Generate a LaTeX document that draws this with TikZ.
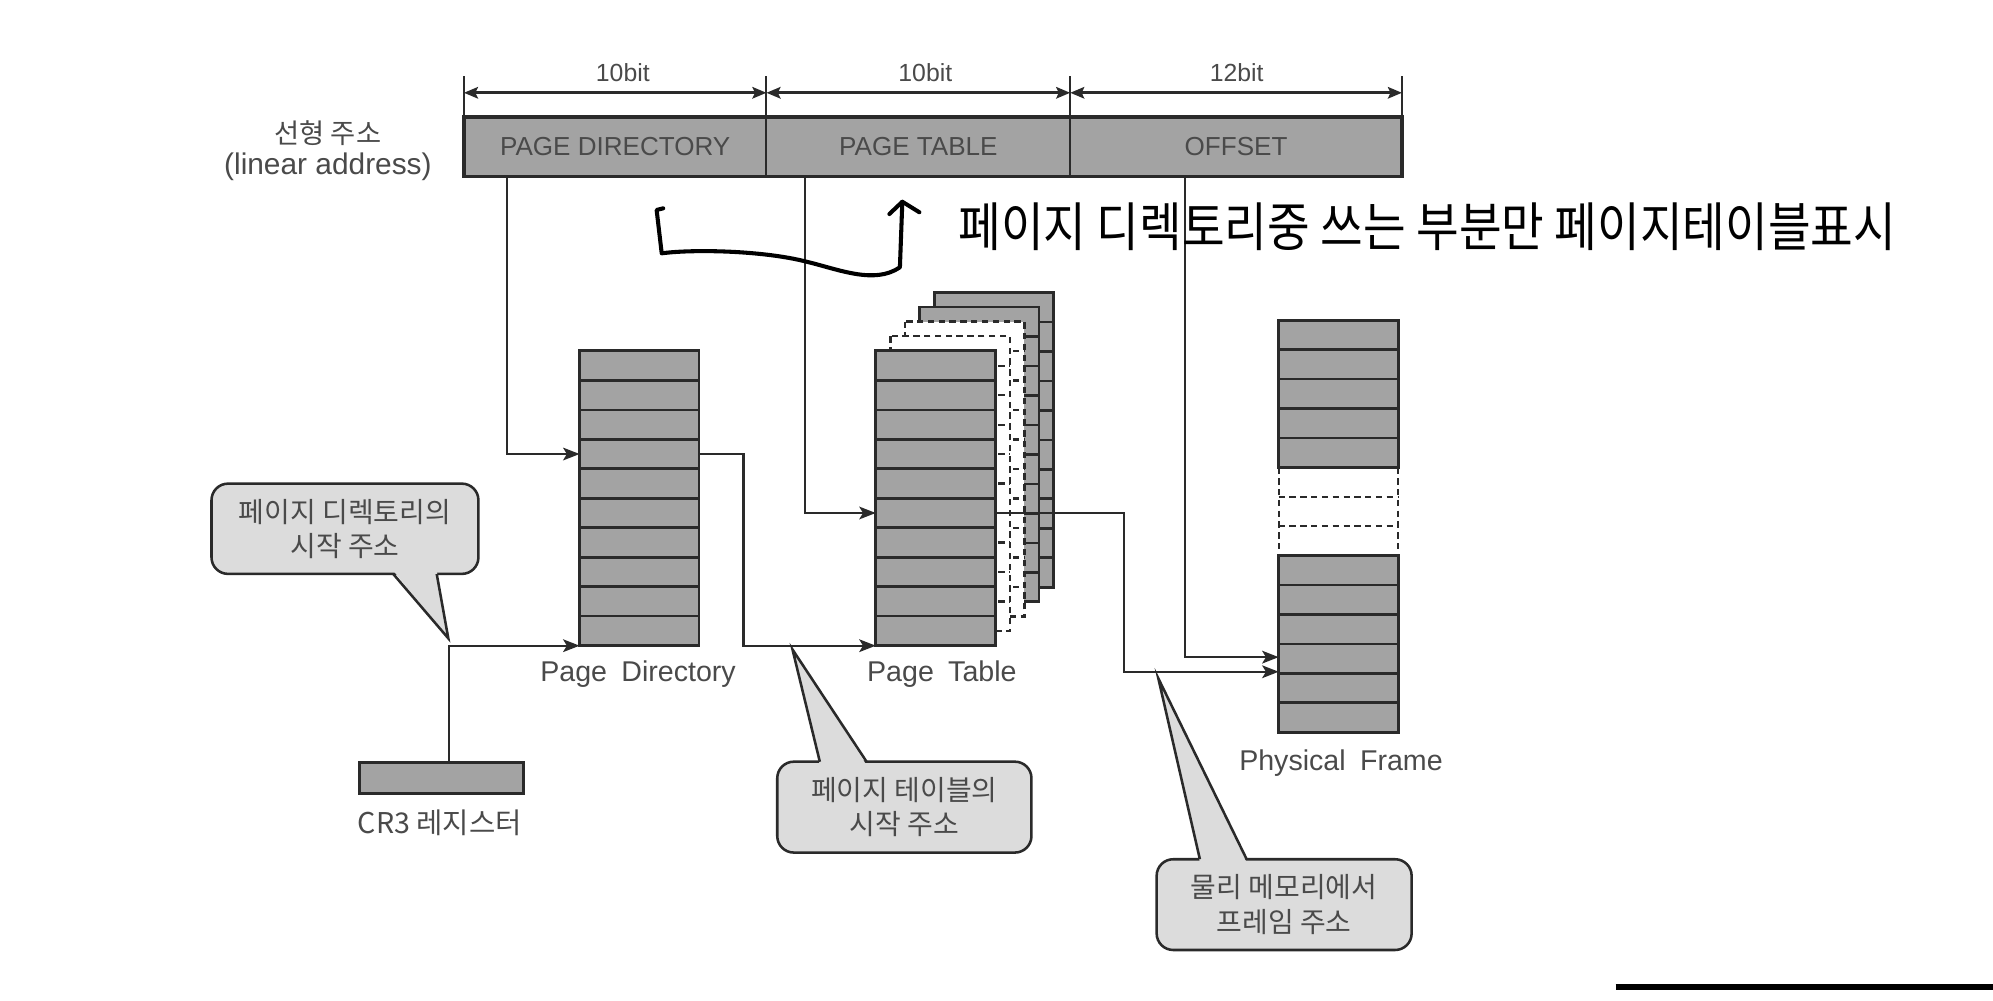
\documentclass[tikz,border=0pt]{standalone}
\usepackage{fontspec}
\usepackage{graphicx}
\setmainfont{Liberation Sans}
\newfontfamily\lab[WordSpace=1.8]{Liberation Sans}
\newfontfamily\kr{Noto Sans CJK KR}
\usetikzlibrary{arrows.meta}
\definecolor{boxgray}{HTML}{A3A3A3}
\definecolor{callgray}{HTML}{DCDCDC}
\definecolor{edge}{HTML}{2A2A2A}
\definecolor{txt}{HTML}{4A4A4A}
\begin{document}
\begin{tikzpicture}[x=1pt,y=-1pt,
  conn/.style={draw=edge, line width=1.7pt},
  arrowconn/.style={conn, -{Stealth[length=13pt,width=10pt,inset=3pt]}},
  dimarrow/.style={draw=edge, line width=2.2pt, {Stealth[length=11pt,width=9pt,inset=2pt]}-{Stealth[length=11pt,width=9pt,inset=2pt]}},
  tickline/.style={draw=edge, line width=1.5pt},
  tblframe/.style={draw=edge, fill=boxgray, line width=2.2pt},
  rowline/.style={draw=edge, line width=2pt},
  dashline/.style={draw=edge, line width=1.8pt, dash pattern=on 5pt off 3.5pt},
  barseg/.style={fill=boxgray, minimum height=47pt, inner sep=0pt, outer sep=0pt, text=txt, font=\fontsize{20.5}{22}\selectfont},
  bitlbl/.style={text=txt, inner sep=0pt, font=\fontsize{19.5}{20}\selectfont},
  lbl/.style={text=txt, inner sep=0pt, font=\lab\fontsize{22.5}{24}\selectfont},
  krlbl/.style={text=txt, inner sep=0pt, font=\kr\fontsize{21.5}{24}\selectfont},
  callbox/.style={draw=edge, fill=callgray, line width=2pt, rounded corners=13pt, inner sep=0pt, text=txt, align=center, font=\kr\fontsize{22}{27}\selectfont},
  pointer/.style={draw=edge, line width=2pt, line join=miter},
  tbl/.style={tblframe, minimum width=94pt, inner sep=0pt, outer sep=0pt}
]
\useasboundingbox (0,0) rectangle (1568,787);

% ---------- linear address bar ----------
\node[barseg, minimum width=238pt] (bpd) at (484,115.5) {PAGE DIRECTORY};
\node[barseg, minimum width=239pt] (bpt) at (722.5,115.5) {PAGE TABLE};
\node[barseg, minimum width=261pt] (boff) at (972.5,115.5) {OFFSET};
\draw[line width=2.6pt, draw=edge] (bpd.north west) rectangle (boff.south east);
\draw[tickline] (bpd.north east) -- (bpd.south east);
\draw[tickline] (bpt.north east) -- (bpt.south east);

\draw[tickline] (bpd.north west) -- ++(0,-32) coordinate (t0);
\draw[tickline] (bpd.north east) -- ++(0,-32) coordinate (t1);
\draw[tickline] (bpt.north east) -- ++(0,-32) coordinate (t2);
\draw[tickline] (boff.north east) -- ++(0,-32) coordinate (t3);
\coordinate (d0) at (365,73);
\coordinate (d1) at (603,73);
\coordinate (d2) at (842,73);
\coordinate (d3) at (1103,73);
\draw[dimarrow] (d0) -- (d1);
\draw[dimarrow] (d1) -- (d2);
\draw[dimarrow] (d2) -- (d3);
\node[bitlbl] (bit1) at (490,57) {10bit};
\node[bitlbl] (bit2) at (728,57) {10bit};
\node[bitlbl] (bit3) at (973,57) {12bit};

\node[krlbl] (lin1) at (258,105) {선형 주소};
\node[lbl, font=\fontsize{23.5}{24}\selectfont] (lin2) at (258,131) {(linear address)};

% ---------- page directory ----------
\node[tbl, minimum height=232pt] (pd) at (503,392) {};
\foreach \i in {1,...,9} \draw[rowline] (456,{276+23.2*\i}) -- (550,{276+23.2*\i});
\node[lbl] (pdl) at (502,530) {Page Directory};

% ---------- page table stack ----------
\foreach \k in {4,3} {
  \begin{scope}[shift={({11.5*\k},{-11.5*\k})}]
    \draw[tblframe] (689,276) rectangle (783,508);
    \foreach \i in {1,...,9} \draw[rowline] (689,{276+23.2*\i}) -- (783,{276+23.2*\i});
  \end{scope}
}
\foreach \k in {2,1} {
  \begin{scope}[shift={({11.5*\k},{-11.5*\k})}]
    \fill[white] (689,276) rectangle (783,508);
    \draw[dashline] (689,276) rectangle (783,508);
    \foreach \i in {1,...,9} \draw[dashline] (689,{276+23.2*\i}) -- (783,{276+23.2*\i});
  \end{scope}
}
\node[tbl, minimum height=232pt] (pt) at (736,392) {};
\foreach \i in {1,...,9} \draw[rowline] (689,{276+23.2*\i}) -- (783,{276+23.2*\i});
\node[lbl] (ptl) at (741,530) {Page Table};

% ---------- physical frame ----------
\node[minimum width=94pt, minimum height=324pt, inner sep=0pt] (pf) at (1053,414) {};
\draw[tblframe] (1006,252) rectangle (1100,{252+5*23.143});
\foreach \i in {1,...,4} \draw[rowline] (1006,{252+23.143*\i}) -- (1100,{252+23.143*\i});
\draw[dashline] (1006,{252+5*23.143}) -- (1006,{252+8*23.143});
\draw[dashline] (1100,{252+5*23.143}) -- (1100,{252+8*23.143});
\draw[dashline] (1006,{252+6*23.143}) -- (1100,{252+6*23.143});
\draw[dashline] (1006,{252+7*23.143}) -- (1100,{252+7*23.143});
\draw[tblframe] (1006,{252+8*23.143}) rectangle (1100,576);
\foreach \i in {9,...,13} \draw[rowline] (1006,{252+23.143*\i}) -- (1100,{252+23.143*\i});
\node[lbl] (pfl) at (1055,600) {Physical Frame};

% ---------- CR3 ----------
\node[tblframe, minimum width=129pt, minimum height=24pt, inner sep=0pt] (cr3) at (347.5,612) {};
\node[krlbl, font=\kr\fontsize{22.5}{24}\selectfont] (cr3l) at (346,647) {CR3 레지스터};

% ---------- connection points ----------
\coordinate (pdtap) at (399,139);
\coordinate (pttap) at (633,139);
\coordinate (offtap) at (932,139);
\coordinate (pdin) at (456,357.2);
\coordinate (pdout) at (550,357.2);
\coordinate (pdbase) at (456,508);
\coordinate (pdjog) at (585,508);
\coordinate (ptin) at (689,403.6);
\coordinate (ptout) at (783,403.6);
\coordinate (ptbase) at (689,508);
\coordinate (ptjog) at (884,528.5);
\coordinate (pfin1) at (1006,517);
\coordinate (pfin2) at (1006,528.5);
\coordinate (cr3tap) at (353,600);

\draw[arrowconn] (pdtap) |- (pdin);
\draw[arrowconn] (pttap) |- (ptin);
\draw[arrowconn] (offtap) |- (pfin1);
\draw[arrowconn] (pdout) -| (pdjog) -- (ptbase);
\draw[arrowconn] (ptout) -| (ptjog) -- (pfin2);
\draw[arrowconn] (cr3tap) |- (pdbase);

% ---------- callouts ----------
\node[callbox, minimum width=210pt, minimum height=71pt] (c1) at (271.4,416) {페이지 디렉토리의\\시작 주소};
\fill[callgray] (309.4,449) -- (352.7,502.2) -- (343.6,449) -- cycle;
\draw[pointer] (309.4,451.6) -- (352.7,502.2) -- (343.6,451.6);

\node[callbox, minimum width=200pt, minimum height=71.5pt] (c2) at (711.5,635) {페이지 테이블의\\시작 주소};
\fill[callgray] (645,602) -- (623.5,511) -- (681.8,602) -- cycle;
\draw[pointer] (645,599.3) -- (623.5,511) -- (681.8,599.3);

\node[callbox, minimum width=200.6pt, minimum height=71.4pt] (c3) at (1010.3,711.7) {물리 메모리에서\\프레임 주소};
\fill[callgray] (944,678.5) -- (911.3,533.7) -- (980.8,678.5) -- cycle;
\draw[pointer] (944,676) -- (911.3,533.7) -- (980.8,676);

% ---------- handwritten annotation ----------
\draw[black, line width=3.2pt, line cap=round, line join=round]
  (521.8,163.9) -- (516.6,165.2) -- (520.6,199.3)
  .. controls (545,196) and (600,197) .. (634.6,205.9)
  .. controls (660,212) and (688,224) .. (708,210.3) -- (709.9,158.7);
\draw[black, line width=3.2pt, line cap=round, line join=round]
  (699.7,168.4) -- (709.9,158.7) -- (723.3,167);
\node[anchor=west, inner sep=0pt] (note) at (754,178) {\kr\fontsize{32}{32}\selectfont\scalebox{1.14}[1.3]{페이지 디렉토리중 쓰는 부분만 페이지테이블표시}};

% ---------- bottom right rule ----------
\draw[black, line width=4.5pt] (1271,776.5) -- (1568,776.5);
\end{tikzpicture}
\end{document}
